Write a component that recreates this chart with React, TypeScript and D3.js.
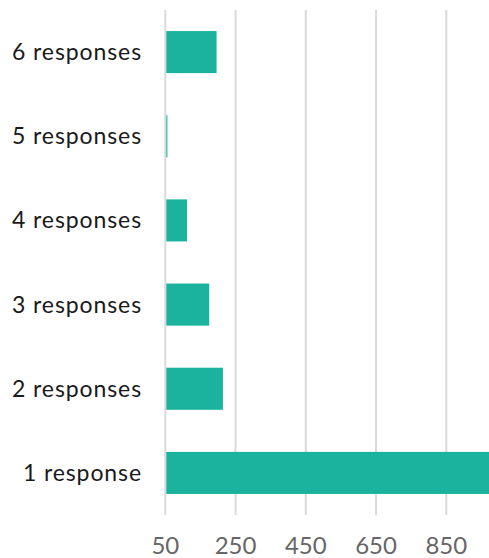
import React from "react";
import * as d3 from "d3";

const categories = ["6 responses", "5 responses", "4 responses", "3 responses", "2 responses", "1 response"];
const values = [196, 56, 112, 175, 214, 1000];
const tickValues = [50, 250, 450, 650, 850];

const W = 489;
const H = 558;

export default function App() {
  const x = d3.scaleLinear().domain([50, 850]).range([165.3, 446.3]);
  const y = d3
    .scaleBand<string>()
    .domain(categories)
    .range([10, 515])
    .paddingInner(0.5)
    .paddingOuter(0.25);

  const font = "Lato, 'Open Sans', sans-serif";

  return (
    <svg
      width={W}
      height={H}
      style={{ position: "fixed", left: 0, top: 0, background: "#fff" }}
      fontFamily={font}
    >
      {tickValues.map((t) => (
        <line
          key={"g" + t}
          x1={x(t)}
          x2={x(t)}
          y1={10}
          y2={515}
          stroke="#d9d9d9"
          strokeWidth={2}
        />
      ))}
      {categories.map((c, i) => (
        <rect
          key={c}
          x={x(50) + 1}
          y={y(c)}
          width={Math.max(0, x(values[i]) - x(50) - 1)}
          height={y.bandwidth()}
          fill="#1bb39e"
        />
      ))}
      {categories.map((c) => (
        <text
          key={"l" + c}
          x={142}
          y={(y(c) as number) + y.bandwidth() / 2}
          dy="0.35em"
          textAnchor="end"
          fontSize={23}
          letterSpacing={0.9}
          fill="#1a1a1a"
        >
          {c}
        </text>
      ))}
      {tickValues.map((t) => (
        <text
          key={"t" + t}
          x={x(t)}
          y={554}
          textAnchor="middle"
          fontSize={24}
          fill="#666666"
        >
          {t}
        </text>
      ))}
    </svg>
  );
}
